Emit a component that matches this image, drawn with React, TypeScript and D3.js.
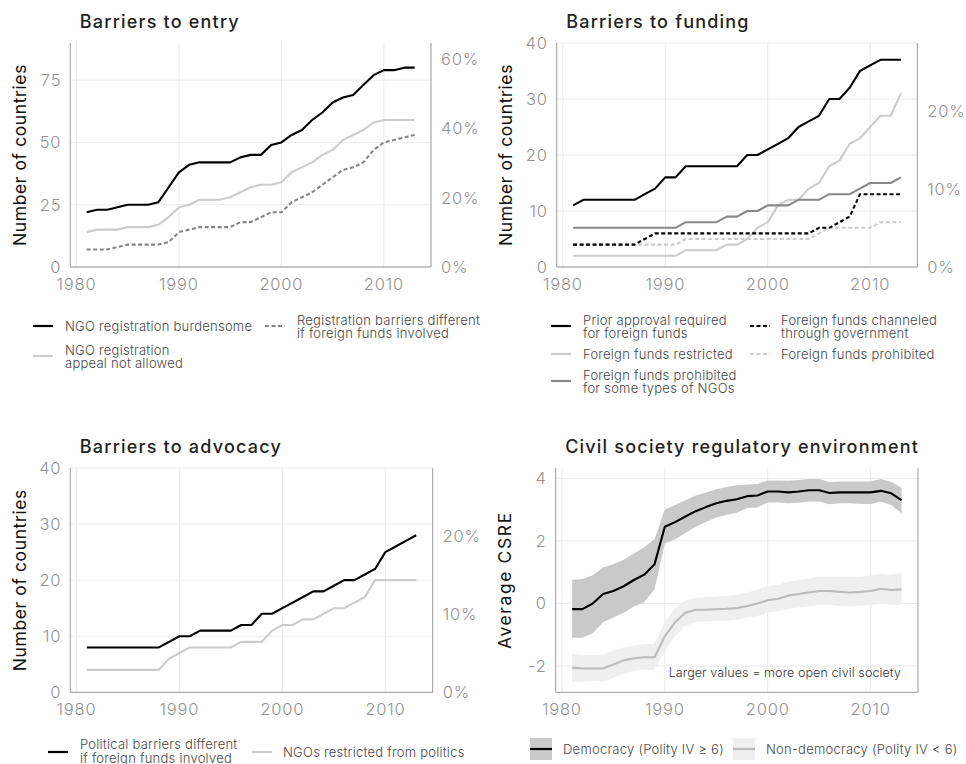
import React from "react";
import * as d3 from "d3";

// years shared by every panel
const years = d3.range(1981, 2014);
const xTicks = [1980, 1990, 2000, 2010];
const totalCountries = 139;

// Barriers to entry
const entryBurdensome = [22, 23, 23, 24, 25, 25, 25, 26, 32, 38, 41, 42, 42, 42, 42, 44, 45, 45, 49, 50, 53, 55, 59, 62, 66, 68, 69, 73, 77, 79, 79, 80, 80];
const entryAppeal = [14, 15, 15, 15, 16, 16, 16, 17, 20, 24, 25, 27, 27, 27, 28, 30, 32, 33, 33, 34, 38, 40, 42, 45, 47, 51, 53, 55, 58, 59, 59, 59, 59];
const entryForeign = [7, 7, 7, 8, 9, 9, 9, 9, 10, 14, 15, 16, 16, 16, 16, 18, 18, 20, 22, 22, 26, 28, 30, 33, 36, 39, 40, 42, 47, 50, 51, 52, 53];
const entryLeftTicks = [0, 25, 50, 75];
const entryRightTicks = [0, 0.2, 0.4, 0.6];

// Barriers to funding
const fundApproval = [11, 12, 12, 12, 12, 12, 12, 13, 14, 16, 16, 18, 18, 18, 18, 18, 18, 20, 20, 21, 22, 23, 25, 26, 27, 30, 30, 32, 35, 36, 37, 37, 37];
const fundRestricted = [2, 2, 2, 2, 2, 2, 2, 2, 2, 2, 2, 3, 3, 3, 3, 4, 4, 5, 7, 8, 11, 12, 12, 14, 15, 18, 19, 22, 23, 25, 27, 27, 31];
const fundSomeTypes = [7, 7, 7, 7, 7, 7, 7, 7, 7, 7, 7, 8, 8, 8, 8, 9, 9, 10, 10, 11, 11, 11, 12, 12, 12, 13, 13, 13, 14, 15, 15, 15, 16];
const fundChanneled = [4, 4, 4, 4, 4, 4, 4, 5, 6, 6, 6, 6, 6, 6, 6, 6, 6, 6, 6, 6, 6, 6, 6, 6, 7, 7, 8, 9, 13, 13, 13, 13, 13];
const fundProhibited = [4, 4, 4, 4, 4, 4, 4, 4, 4, 4, 4, 5, 5, 5, 5, 5, 5, 5, 5, 5, 5, 5, 5, 5, 6, 7, 7, 7, 7, 7, 8, 8, 8];
const countLeftTicks = [0, 10, 20, 30, 40];
const countRightTicks = [0, 0.1, 0.2];

// Barriers to advocacy
const advPolitical = [8, 8, 8, 8, 8, 8, 8, 8, 9, 10, 10, 11, 11, 11, 11, 12, 12, 14, 14, 15, 16, 17, 18, 18, 19, 20, 20, 21, 22, 25, 26, 27, 28];
const advRestricted = [4, 4, 4, 4, 4, 4, 4, 4, 6, 7, 8, 8, 8, 8, 8, 9, 9, 9, 11, 12, 12, 13, 13, 14, 15, 15, 16, 17, 20, 20, 20, 20, 20];

// Civil society regulatory environment
const demMean = [-0.18, -0.18, 0.0, 0.3, 0.4, 0.55, 0.75, 0.92, 1.25, 2.45, 2.6, 2.78, 2.95, 3.08, 3.2, 3.28, 3.33, 3.43, 3.45, 3.58, 3.58, 3.55, 3.58, 3.62, 3.62, 3.53, 3.55, 3.55, 3.55, 3.55, 3.6, 3.52, 3.3];
const demHigh = [0.75, 0.78, 0.9, 1.15, 1.25, 1.4, 1.6, 1.8, 2.05, 3.0, 3.15, 3.3, 3.45, 3.55, 3.65, 3.72, 3.78, 3.8, 3.82, 3.93, 3.93, 3.92, 3.95, 3.98, 3.98, 3.88, 3.9, 3.9, 3.9, 3.9, 3.98, 3.88, 3.7];
const demLow = [-1.1, -1.1, -0.95, -0.6, -0.45, -0.3, -0.1, 0.05, 0.45, 1.92, 2.05, 2.25, 2.45, 2.6, 2.75, 2.83, 2.9, 3.05, 3.07, 3.23, 3.23, 3.2, 3.22, 3.26, 3.26, 3.17, 3.2, 3.2, 3.18, 3.18, 3.25, 3.15, 2.88];
const nonMean = [-2.05, -2.08, -2.08, -2.08, -1.95, -1.82, -1.75, -1.72, -1.72, -1.05, -0.6, -0.3, -0.2, -0.2, -0.18, -0.17, -0.15, -0.08, 0.0, 0.1, 0.15, 0.25, 0.3, 0.35, 0.4, 0.4, 0.37, 0.35, 0.37, 0.4, 0.47, 0.43, 0.45];
const nonHigh = [-1.6, -1.65, -1.65, -1.65, -1.5, -1.4, -1.35, -1.3, -1.3, -0.6, -0.15, 0.1, 0.18, 0.2, 0.22, 0.25, 0.28, 0.35, 0.45, 0.55, 0.6, 0.7, 0.75, 0.8, 0.85, 0.85, 0.85, 0.85, 0.85, 0.9, 0.95, 0.92, 0.98];
const nonLow = [-2.5, -2.5, -2.48, -2.5, -2.38, -2.25, -2.15, -2.12, -2.12, -1.5, -1.05, -0.72, -0.6, -0.58, -0.55, -0.55, -0.52, -0.45, -0.4, -0.3, -0.25, -0.18, -0.13, -0.1, -0.05, -0.05, -0.08, -0.1, -0.08, -0.05, 0.0, -0.05, -0.05];
const csreTicks = [-2, 0, 2, 4];

const FONT = "Inter, 'Open Sans', sans-serif";
const GRID = "#ebebeb";
const AXIS = "#9a9a9a";
const TICK = "#939393";
const LEGEND = "#474747";

type Series = { values: number[]; color: string; dash?: string };
type Ribbon = { low: number[]; high: number[]; fill: string };

interface PanelProps {
  box: [number, number, number, number];
  title: string;
  yTitle: string;
  yTitleSpacing?: number;
  yDomain: [number, number];
  leftTicks: number[];
  rightTicks?: number[];
  series: Series[];
  ribbons?: Ribbon[];
  children?: React.ReactNode;
}

const Panel: React.FC<PanelProps> = ({ box, title, yTitle, yTitleSpacing, yDomain, leftTicks, rightTicks, series, ribbons, children }) => {
  const [x0, y0, x1, y1] = box;
  const x = d3.scaleLinear().domain([1979.4, 2014.6]).range([x0, x1]);
  const y = d3.scaleLinear().domain(yDomain).range([y1, y0]);
  const line = d3
    .line<number>()
    .x((_, i) => x(years[i]))
    .y((d) => y(d));
  const area = (r: Ribbon) =>
    d3
      .area<number>()
      .x((_, i) => x(years[i]))
      .y0((_, i) => y(r.low[i]))
      .y1((d) => y(d))(r.high) || "";

  return (
    <g>
      <text x={x0 + 9.5} y={y0 - 15} fontSize={18} fontWeight={500} letterSpacing={1.2} fill="#222">
        {title}
      </text>
      <text
        transform={`translate(${x0 - 51},${(y0 + y1) / 2}) rotate(-90)`}
        textAnchor="middle"
        dominantBaseline="central"
        fontSize={17.5}
        letterSpacing={yTitleSpacing ?? 0.6}
        fill="#111"
      >
        {yTitle}
      </text>
      {leftTicks.map((t) => (
        <line key={`gy${t}`} x1={x0} x2={x1} y1={y(t)} y2={y(t)} stroke={GRID} strokeWidth={1} />
      ))}
      {xTicks.map((t) => (
        <line key={`gx${t}`} x1={x(t)} x2={x(t)} y1={y0} y2={y1} stroke={GRID} strokeWidth={1} />
      ))}
      {(ribbons || []).map((r, i) => (
        <path key={`r${i}`} d={area(r)} fill={r.fill} />
      ))}
      {series.map((s, i) => (
        <path
          key={`s${i}`}
          d={line(s.values) || ""}
          fill="none"
          stroke={s.color}
          strokeWidth={2.1}
          strokeDasharray={s.dash}
          strokeLinejoin="round"
        />
      ))}
      <path d={`M${x0},${y0}V${y1}H${x1}V${y0}`} fill="none" stroke={AXIS} strokeWidth={1} />
      {leftTicks.map((t) => (
        <text key={`ly${t}`} x={x0 - 9} y={y(t)} textAnchor="end" dominantBaseline="central" fontSize={16.5} fontWeight={300} letterSpacing={0.8} fill={TICK}>
          {t}
        </text>
      ))}
      {(rightTicks || []).map((t) => (
        <text key={`ry${t}`} x={x1 + 10} y={y(t * totalCountries)} dominantBaseline="central" fontSize={16.5} fontWeight={300} letterSpacing={0.8} fill={TICK}>
          {d3.format(".0%")(t)}
        </text>
      ))}
      {xTicks.map((t) => (
        <text key={`lx${t}`} x={x(t)} y={y1 + 23} textAnchor="middle" fontSize={16.5} fontWeight={300} letterSpacing={0.8} fill={TICK}>
          {t}
        </text>
      ))}
      {children}
    </g>
  );
};

// legend key: short line plus one or two lines of label in a single text element
const LegendLine: React.FC<{ x: number; y: number; color: string; dash?: string; lines: string[]; tx: number; ty?: number }> = ({
  x,
  y,
  color,
  dash,
  lines,
  tx,
  ty,
}) => {
  const first = ty ?? (lines.length === 1 ? y : y - 6.5);
  return (
    <g>
      <line x1={x} x2={x + 20} y1={y} y2={y} stroke={color} strokeWidth={2.2} strokeDasharray={dash} />
      <text x={tx} y={first} dominantBaseline="central" fontSize={13} fontWeight={300} letterSpacing={0.25} fill={LEGEND}>
        {lines.map((l, i) => (
          <tspan key={i} x={tx} dy={i === 0 ? 0 : 13.5}>
            {l}
          </tspan>
        ))}
      </text>
    </g>
  );
};

const App: React.FC = () => {
  return (
    <svg width={966} height={764} style={{ position: "absolute", left: 0, top: 0, fontFamily: FONT }}>
      <rect width={966} height={764} fill="#fff" />
      <Panel
        box={[70.3, 43, 431, 267]}
        title="Barriers to entry"
        yTitle="Number of countries"
        yDomain={[0, 89.9]}
        leftTicks={entryLeftTicks}
        rightTicks={entryRightTicks}
        series={[
          { values: entryAppeal, color: "#cccccc" },
          { values: entryForeign, color: "#858585", dash: "4,2.5" },
          { values: entryBurdensome, color: "#000" },
        ]}
      />
      <Panel
        box={[556.7, 43, 917.3, 267]}
        title="Barriers to funding"
        yTitle="Number of countries"
        yDomain={[0, 40]}
        leftTicks={countLeftTicks}
        rightTicks={countRightTicks}
        series={[
          { values: fundProhibited, color: "#cccccc", dash: "4,2.5" },
          { values: fundRestricted, color: "#cccccc" },
          { values: fundChanneled, color: "#000", dash: "4,2.5" },
          { values: fundSomeTypes, color: "#888888" },
          { values: fundApproval, color: "#000" },
        ]}
      />
      <Panel
        box={[70.3, 468, 432.7, 692.3]}
        title="Barriers to advocacy"
        yTitle="Number of countries"
        yDomain={[0, 40]}
        leftTicks={countLeftTicks}
        rightTicks={countRightTicks}
        series={[
          { values: advRestricted, color: "#cccccc" },
          { values: advPolitical, color: "#000" },
        ]}
      />
      <Panel
        box={[555.7, 468, 918, 692.3]}
        title="Civil society regulatory environment"
        yTitle="Average CSRE"
        yTitleSpacing={1.6}
        yDomain={[-2.84, 4.33]}
        leftTicks={csreTicks}
        ribbons={[
          { low: nonLow, high: nonHigh, fill: "#efefef" },
          { low: demLow, high: demHigh, fill: "#c9c9c9" },
        ]}
        series={[
          { values: nonMean, color: "#bbbbbb" },
          { values: demMean, color: "#000" },
        ]}
      >
        <text x={901} y={677} textAnchor="end" fontSize={12.5} fontWeight={300} letterSpacing={0.1} fill="#333">
          Larger values = more open civil society
        </text>
      </Panel>

      {/* legends */}
      <LegendLine x={33} y={326} color="#000" lines={["NGO registration burdensome"]} tx={65} />
      <LegendLine x={265} y={326} color="#858585" dash="4,2.5" lines={["Registration barriers different", "if foreign funds involved"]} tx={297} />
      <LegendLine x={33} y={356} color="#cccccc" lines={["NGO registration", "appeal not allowed"]} tx={65} />

      <LegendLine x={551} y={326} color="#000" lines={["Prior approval required", "for foreign funds"]} tx={583} />
      <LegendLine x={750} y={326} color="#000" dash="4,2.5" lines={["Foreign funds channeled", "through government"]} tx={781} />
      <LegendLine x={551} y={354} color="#cccccc" lines={["Foreign funds restricted"]} tx={583} />
      <LegendLine x={750} y={354} color="#cccccc" dash="4,2.5" lines={["Foreign funds prohibited"]} tx={781} />
      <LegendLine x={551} y={381} color="#888888" lines={["Foreign funds prohibited", "for some types of NGOs"]} tx={583} />

      <LegendLine x={48} y={752} color="#000" lines={["Political barriers different", "if foreign funds involved"]} tx={80} ty={744} />
      <LegendLine x={252} y={752} color="#cccccc" lines={["NGOs restricted from politics"]} tx={283} />

      <g>
        <rect x={530} y={738} width={22} height={22} fill="#c9c9c9" />
        <line x1={530} x2={552} y1={749} y2={749} stroke="#000" strokeWidth={2.2} />
        <text x={563} y={749} dominantBaseline="central" fontSize={13} fontWeight={300} letterSpacing={0.25} fill={LEGEND}>
          Democracy (Polity IV ≥ 6)
        </text>
        <rect x={733} y={738} width={22} height={22} fill="#efefef" />
        <line x1={733} x2={755} y1={749} y2={749} stroke="#bbbbbb" strokeWidth={2.2} />
        <text x={766} y={749} dominantBaseline="central" fontSize={13} fontWeight={300} letterSpacing={0.25} fill={LEGEND}>
          Non-democracy (Polity IV &lt; 6)
        </text>
      </g>
    </svg>
  );
};

export default App;
